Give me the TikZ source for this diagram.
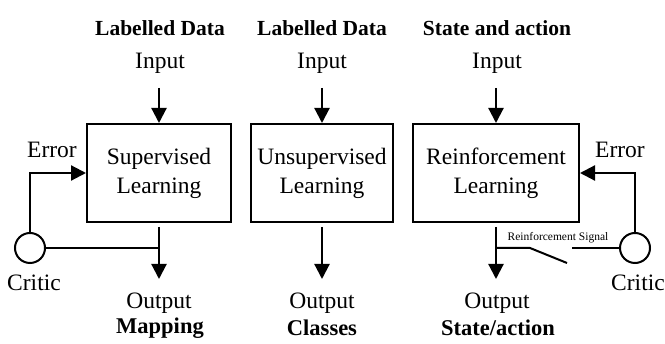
\documentclass[tikz,border=0pt]{standalone}
\usepackage{fontspec}
\setmainfont{Liberation Serif}
\usetikzlibrary{arrows.meta,calc}
\begin{document}
\begin{tikzpicture}[x=1pt,y=-1pt,
  lw/.style={line width=2pt},
  block/.style={draw,line width=2pt,minimum height=98pt,align=center,font=\fontsize{23.5}{29}\selectfont,inner sep=0pt},
  lbl/.style={font=\fontsize{23.5}{27}\selectfont,inner sep=0pt},
  blbl/.style={font=\fontsize{22.5}{27}\selectfont\bfseries,inner sep=0pt},
  tlbl/.style={font=\fontsize{21.5}{27}\selectfont\bfseries,inner sep=0pt},
  small/.style={font=\fontsize{11.5}{13}\selectfont,inner sep=0pt},
  arr/.style={line width=2.2pt,-{Triangle[width=15pt,length=15pt]}},
  critic/.style={circle,draw,line width=2pt,minimum size=30pt,inner sep=0pt}]
\useasboundingbox (0,0) rectangle (665,344);

% blocks
\node[block,minimum width=144pt] (sup) at (159,173) {Supervised\\Learning};
\node[block,minimum width=142pt] (uns) at (322,173) {Unsupervised\\Learning};
\node[block,minimum width=166pt] (rei) at (496,173) {Reinforcement\\Learning};

% inputs
\node[tlbl] (t1) at (160,28) {Labelled Data};
\node[tlbl] (t2) at (322,28) {Labelled Data};
\node[tlbl] (t3) at (497,28) {State and action};
\node[lbl] (i1) at (160,63) {Input};
\node[lbl] (i2) at (322,63) {Input};
\node[lbl] (i3) at (497,63) {Input};
\coordinate (a1) at (159,88);
\coordinate (a2) at (322,88);
\coordinate (a3) at (496,88);
\draw[arr] (a1) -- (sup.north);
\draw[arr] (a2) -- (uns.north);
\draw[arr] (a3) -- (rei.north);

% outputs
\node[lbl] (o1) at (159,303) {Output};
\node[lbl] (o2) at (322,303) {Output};
\node[lbl] (o3) at (497,303) {Output};
\node[blbl] (m1) at (160,328) {Mapping};
\node[blbl] (m2) at (322,328) {Classes};
\node[blbl] (m3) at (498,328) {State/action};
\coordinate (b1) at (159,279);
\coordinate (b2) at (322,279);
\coordinate (b3) at (496,279);
\draw[arr,shorten <=4pt] (sup.south) -- (b1);
\draw[arr,shorten <=4pt] (uns.south) -- (b2);
\draw[arr,shorten <=4pt] (rei.south) -- (b3);

% left critic
\node[critic] (c1) at (30,248) {};
\node[lbl] (k1) at (34,283) {Critic};
\node[lbl] (e1) at (52,150) {Error};
\draw[arr] (c1.north) |- (sup.west);
\draw[lw] (c1.east) -- (c1.east -| sup.south);

% right critic
\node[critic] (c2) at (635,248) {};
\node[lbl] (k2) at (638,283) {Critic};
\node[lbl] (e2) at (620,150) {Error};
\draw[arr] (c2.north) |- (rei.east);
\coordinate (s0) at (rei.south |- c2.west);
\coordinate (s1) at (530,248);
\coordinate (s2) at (567,263);
\coordinate (s3) at (572,248);
\draw[lw] (s0) -- (s1) -- (s2);
\draw[lw] (s3) -- (c2.west);
\node[small] (sig) at (558,238) {Reinforcement Signal};
\end{tikzpicture}
\end{document}
